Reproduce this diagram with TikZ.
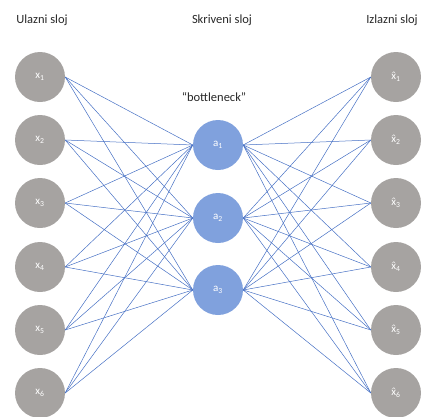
\documentclass[tikz,border=0pt]{standalone}
\usepackage{fontspec}
\setmainfont{Carlito}
\definecolor{nodegray}{RGB}{166,163,161}
\definecolor{nodeblue}{RGB}{128,161,221}
\definecolor{edgeblue}{RGB}{70,112,196}
\definecolor{titlegray}{RGB}{40,40,40}
\newcommand{\xhatsym}{\accent"02C6 x}
\begin{document}
\begin{tikzpicture}[x=1pt,y=-1pt,
  unit/.style={circle,minimum size=50pt,inner sep=0pt,text=white,font=\fontsize{11}{13}\selectfont},
  inunit/.style={unit,fill=nodegray},
  hidunit/.style={unit,fill=nodeblue},
  edge/.style={draw=edgeblue,line width=0.5pt},
  title/.style={font=\fontsize{12.5}{15}\selectfont,text=titlegray,inner sep=0pt}]
\useasboundingbox (0,0) rectangle (424,416);
\foreach \i/\y in {1/77,2/140,3/203,4/267,5/330,6/393}{
  \node[inunit] (x\i) at (40,\y) {x\textsubscript{\i}};
  \node[inunit] (o\i) at (396,\y) {\xhatsym\textsubscript{\i}};
}
\foreach \j/\y in {1/145,2/218,3/290}{
  \node[hidunit] (a\j) at (218,\y) {a\textsubscript{\j}};
}
\foreach \i in {1,...,6}{
  \foreach \j in {1,2,3}{
    \draw[edge] (x\i.east) -- (a\j.west);
    \draw[edge] (a\j.east) -- (o\i.west);
  }
}
\node[title] (t1) at (42,20) {Ulazni sloj};
\node[title] (t2) at (222,20) {Skriveni sloj};
\node[title] (t3) at (392,20) {Izlazni sloj};
\node[title] (bn) at (214,97) {“bottleneck”};
\end{tikzpicture}
\end{document}
